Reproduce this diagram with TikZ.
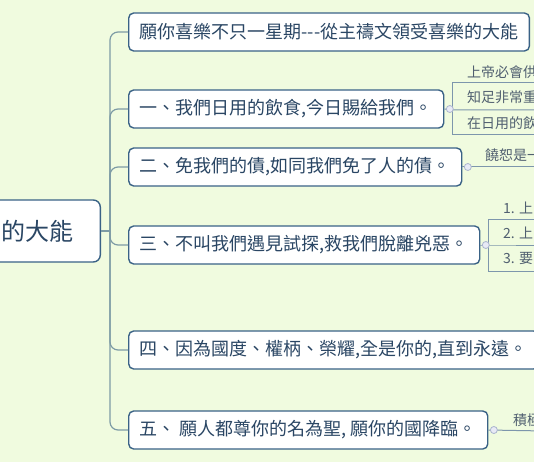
\documentclass[tikz,border=0pt]{standalone}
\usepackage{fontspec}
\setmainfont{Noto Sans CJK TC}
\usetikzlibrary{positioning}
\definecolor{bggreen}{RGB}{240,251,223}
\definecolor{boxline}{RGB}{58,98,134}
\definecolor{boxtext}{RGB}{42,70,100}
\definecolor{trunkline}{RGB}{125,155,165}
\definecolor{subline}{RGB}{125,150,172}
\definecolor{subtext}{RGB}{80,95,112}
\definecolor{knobfill}{RGB}{232,234,246}
\definecolor{knobline}{RGB}{170,180,206}
\begin{document}
\begin{tikzpicture}[x=1pt,y=-1pt,
  topic/.style={draw=boxline,line width=1.4pt,fill=white,rounded corners=5pt,
    text=boxtext,font=\fontsize{18}{21}\selectfont,anchor=west,
    minimum height=38pt,inner xsep=11pt},
  trunk/.style={draw=trunkline,line width=1.2pt,rounded corners=8pt},
  twig/.style={draw=subline,line width=1pt},
  knob/.style={circle,draw=knobline,fill=knobfill,line width=0.8pt,
    inner sep=0pt,minimum size=7pt},
  leaf/.style={text=subtext,font=\fontsize{14}{16}\selectfont,anchor=west,inner sep=0pt}]
\useasboundingbox (0,0) rectangle (534,462);
\clip (0,0) rectangle (534,462);
\fill[bggreen] (0,0) rectangle (534,462);
%% Central topic (cut by the left edge)
\node[topic,anchor=east,minimum height=62pt,inner xsep=27pt,
  font=\fontsize{24}{28}\selectfont,rounded corners=7pt] (root) at (101,231) {的大能};
%% Main topics
\node[topic] (b1) at (128,32)  {願你喜樂不只一星期-{}-{}-從主禱文領受喜樂的大能};
\node[topic] (b2) at (128,109) {一、我們日用的飲食,今日賜給我們。};
\node[topic] (b3) at (128,167) {二、免我們的債,如同我們免了人的債。};
\node[topic] (b4) at (128,245) {三、不叫我們遇見試探,救我們脫離兇惡。};
\node[topic] (b5) at (128,350) {四、因為國度、權柄、榮耀,全是你的,直到永遠。};
\node[topic] (b6) at (128,430) {五、 願人都尊你的名為聖, 願你的國降臨。};
%% Trunk
\coordinate (fork) at (110,231);
\draw[trunk] (root.east) -- (fork);
\draw[trunk] (fork) |- (b1.west);
\draw[trunk] (fork) |- (b2.west);
\draw[trunk] (fork) |- (b3.west);
\draw[trunk] (fork) |- (b4.west);
\draw[trunk] (fork) |- (b5.west);
\draw[trunk] (fork) |- (b6.west);
%% Sub topics of b2
\coordinate (b2top) at (452,83);
\coordinate (b2mid) at (452,110);
\coordinate (b2bot) at (545,135);
\coordinate (b2end) at (545,110);
\draw[twig] (b2top) rectangle (b2bot);
\draw[twig] (b2.east) -- (b2mid) -- (b2end);
\node[knob,right=1.5pt of b2] (k2) {};
\node[leaf] (l2a) at (467,72)  {上帝必會供};
\node[leaf] (l2b) at (467,97)  {知足非常重};
\node[leaf] (l2c) at (467,123) {在日用的飲};
%% Sub topic of b3
\coordinate (b3end) at (545,167);
\draw[twig] (b3.east) -- (b3end);
\node[knob,right=1.5pt of b3] (k3) {};
\node[leaf] (l3a) at (485,155) {饒恕是一};
%% Sub topics of b4
\coordinate (b4top) at (488,219);
\coordinate (b4mid) at (488,245);
\coordinate (b4bot) at (545,271);
\coordinate (b4end) at (545,245);
\draw[twig] (b4top) rectangle (b4bot);
\draw[twig] (b4.east) -- (b4mid) -- (b4end);
\node[knob,right=1.5pt of b4] (k4) {};
\node[leaf] (l4a) at (503,208) {1. 上};
\node[leaf] (l4b) at (503,233) {2. 上};
\node[leaf] (l4c) at (503,258) {3. 要};
%% Sub topic of b6
\coordinate (b6end) at (545,431);
\draw[twig] (b6.east) -- (b6end);
\node[knob,right=1.5pt of b6] (k6) {};
\node[leaf] (l6a) at (513,420) {積極};
\end{tikzpicture}
\end{document}
